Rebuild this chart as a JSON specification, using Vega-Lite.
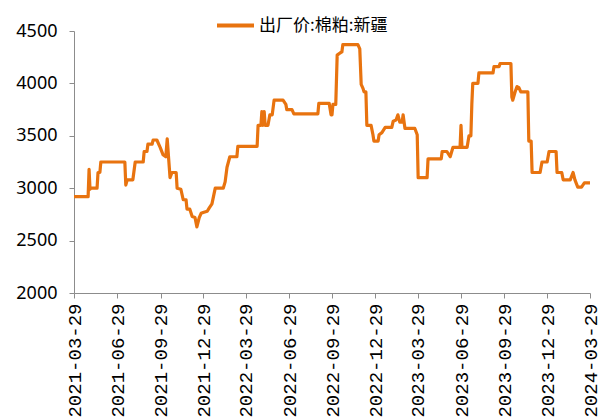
{
  "$schema": "https://vega.github.io/schema/vega-lite/v6.json",
  "width": 516,
  "height": 262,
  "autosize": {"type": "none"},
  "padding": {"left": 74, "top": 31, "right": 19, "bottom": 127},
  "background": "white",
  "config": {"view": {"stroke": null}, "font": "Noto Sans CJK SC"},
  "data": {"values": [
    {"date": "2021-03-29", "value": 2920, "series": "出厂价:棉粕:新疆"},
    {"date": "2021-04-28", "value": 2920, "series": "出厂价:棉粕:新疆"},
    {"date": "2021-04-30", "value": 3180, "series": "出厂价:棉粕:新疆"},
    {"date": "2021-05-02", "value": 2990, "series": "出厂价:棉粕:新疆"},
    {"date": "2021-05-04", "value": 3000, "series": "出厂价:棉粕:新疆"},
    {"date": "2021-05-17", "value": 3000, "series": "出厂价:棉粕:新疆"},
    {"date": "2021-05-19", "value": 3150, "series": "出厂价:棉粕:新疆"},
    {"date": "2021-05-23", "value": 3150, "series": "出厂价:棉粕:新疆"},
    {"date": "2021-05-25", "value": 3250, "series": "出厂价:棉粕:新疆"},
    {"date": "2021-07-15", "value": 3250, "series": "出厂价:棉粕:新疆"},
    {"date": "2021-07-17", "value": 3030, "series": "出厂价:棉粕:新疆"},
    {"date": "2021-07-20", "value": 3080, "series": "出厂价:棉粕:新疆"},
    {"date": "2021-08-01", "value": 3080, "series": "出厂价:棉粕:新疆"},
    {"date": "2021-08-06", "value": 3250, "series": "出厂价:棉粕:新疆"},
    {"date": "2021-08-23", "value": 3250, "series": "出厂价:棉粕:新疆"},
    {"date": "2021-08-25", "value": 3350, "series": "出厂价:棉粕:新疆"},
    {"date": "2021-08-31", "value": 3350, "series": "出厂价:棉粕:新疆"},
    {"date": "2021-09-02", "value": 3420, "series": "出厂价:棉粕:新疆"},
    {"date": "2021-09-11", "value": 3420, "series": "出厂价:棉粕:新疆"},
    {"date": "2021-09-13", "value": 3460, "series": "出厂价:棉粕:新疆"},
    {"date": "2021-09-21", "value": 3460, "series": "出厂价:棉粕:新疆"},
    {"date": "2021-09-28", "value": 3390, "series": "出厂价:棉粕:新疆"},
    {"date": "2021-10-04", "value": 3320, "series": "出厂价:棉粕:新疆"},
    {"date": "2021-10-10", "value": 3300, "series": "出厂价:棉粕:新疆"},
    {"date": "2021-10-13", "value": 3470, "series": "出厂价:棉粕:新疆"},
    {"date": "2021-10-19", "value": 3100, "series": "出厂价:棉粕:新疆"},
    {"date": "2021-10-23", "value": 3150, "series": "出厂价:棉粕:新疆"},
    {"date": "2021-11-01", "value": 3150, "series": "出厂价:棉粕:新疆"},
    {"date": "2021-11-03", "value": 3000, "series": "出厂价:棉粕:新疆"},
    {"date": "2021-11-11", "value": 2990, "series": "出厂价:棉粕:新疆"},
    {"date": "2021-11-16", "value": 2890, "series": "出厂价:棉粕:新疆"},
    {"date": "2021-11-22", "value": 2890, "series": "出厂价:棉粕:新疆"},
    {"date": "2021-11-24", "value": 2800, "series": "出厂价:棉粕:新疆"},
    {"date": "2021-11-30", "value": 2800, "series": "出厂价:棉粕:新疆"},
    {"date": "2021-12-05", "value": 2730, "series": "出厂价:棉粕:新疆"},
    {"date": "2021-12-11", "value": 2720, "series": "出厂价:棉粕:新疆"},
    {"date": "2021-12-15", "value": 2630, "series": "出厂价:棉粕:新疆"},
    {"date": "2021-12-20", "value": 2720, "series": "出厂价:棉粕:新疆"},
    {"date": "2021-12-24", "value": 2760, "series": "出厂价:棉粕:新疆"},
    {"date": "2021-12-30", "value": 2770, "series": "出厂价:棉粕:新疆"},
    {"date": "2022-01-06", "value": 2780, "series": "出厂价:棉粕:新疆"},
    {"date": "2022-01-10", "value": 2810, "series": "出厂价:棉粕:新疆"},
    {"date": "2022-01-16", "value": 2850, "series": "出厂价:棉粕:新疆"},
    {"date": "2022-01-23", "value": 3000, "series": "出厂价:棉粕:新疆"},
    {"date": "2022-02-09", "value": 3000, "series": "出厂价:棉粕:新疆"},
    {"date": "2022-02-13", "value": 3060, "series": "出厂价:棉粕:新疆"},
    {"date": "2022-02-17", "value": 3200, "series": "出厂价:棉粕:新疆"},
    {"date": "2022-02-23", "value": 3300, "series": "出厂价:棉粕:新疆"},
    {"date": "2022-03-10", "value": 3300, "series": "出厂价:棉粕:新疆"},
    {"date": "2022-03-12", "value": 3400, "series": "出厂价:棉粕:新疆"},
    {"date": "2022-04-22", "value": 3400, "series": "出厂价:棉粕:新疆"},
    {"date": "2022-04-24", "value": 3600, "series": "出厂价:棉粕:新疆"},
    {"date": "2022-04-30", "value": 3600, "series": "出厂价:棉粕:新疆"},
    {"date": "2022-05-02", "value": 3730, "series": "出厂价:棉粕:新疆"},
    {"date": "2022-05-04", "value": 3600, "series": "出厂价:棉粕:新疆"},
    {"date": "2022-05-07", "value": 3730, "series": "出厂价:棉粕:新疆"},
    {"date": "2022-05-09", "value": 3600, "series": "出厂价:棉粕:新疆"},
    {"date": "2022-05-15", "value": 3600, "series": "出厂价:棉粕:新疆"},
    {"date": "2022-05-19", "value": 3700, "series": "出厂价:棉粕:新疆"},
    {"date": "2022-05-24", "value": 3700, "series": "出厂价:棉粕:新疆"},
    {"date": "2022-05-28", "value": 3840, "series": "出厂价:棉粕:新疆"},
    {"date": "2022-06-16", "value": 3840, "series": "出厂价:棉粕:新疆"},
    {"date": "2022-06-22", "value": 3800, "series": "出厂价:棉粕:新疆"},
    {"date": "2022-06-24", "value": 3750, "series": "出厂价:棉粕:新疆"},
    {"date": "2022-07-05", "value": 3750, "series": "出厂价:棉粕:新疆"},
    {"date": "2022-07-09", "value": 3710, "series": "出厂价:棉粕:新疆"},
    {"date": "2022-08-29", "value": 3710, "series": "出厂价:棉粕:新疆"},
    {"date": "2022-08-31", "value": 3810, "series": "出厂价:棉粕:新疆"},
    {"date": "2022-09-22", "value": 3810, "series": "出厂价:棉粕:新疆"},
    {"date": "2022-09-26", "value": 3700, "series": "出厂价:棉粕:新疆"},
    {"date": "2022-09-28", "value": 3700, "series": "出厂价:棉粕:新疆"},
    {"date": "2022-09-30", "value": 3800, "series": "出厂价:棉粕:新疆"},
    {"date": "2022-10-06", "value": 3800, "series": "出厂价:棉粕:新疆"},
    {"date": "2022-10-09", "value": 4270, "series": "出厂价:棉粕:新疆"},
    {"date": "2022-10-15", "value": 4290, "series": "出厂价:棉粕:新疆"},
    {"date": "2022-10-19", "value": 4300, "series": "出厂价:棉粕:新疆"},
    {"date": "2022-10-21", "value": 4370, "series": "出厂价:棉粕:新疆"},
    {"date": "2022-11-22", "value": 4370, "series": "出厂价:棉粕:新疆"},
    {"date": "2022-11-26", "value": 4330, "series": "出厂价:棉粕:新疆"},
    {"date": "2022-11-29", "value": 3990, "series": "出厂价:棉粕:新疆"},
    {"date": "2022-12-03", "value": 3950, "series": "出厂价:棉粕:新疆"},
    {"date": "2022-12-05", "value": 3920, "series": "出厂价:棉粕:新疆"},
    {"date": "2022-12-09", "value": 3920, "series": "出厂价:棉粕:新疆"},
    {"date": "2022-12-11", "value": 3600, "series": "出厂价:棉粕:新疆"},
    {"date": "2022-12-20", "value": 3600, "series": "出厂价:棉粕:新疆"},
    {"date": "2022-12-24", "value": 3510, "series": "出厂价:棉粕:新疆"},
    {"date": "2022-12-26", "value": 3450, "series": "出厂价:棉粕:新疆"},
    {"date": "2023-01-04", "value": 3450, "series": "出厂价:棉粕:新疆"},
    {"date": "2023-01-06", "value": 3510, "series": "出厂价:棉粕:新疆"},
    {"date": "2023-01-12", "value": 3530, "series": "出厂价:棉粕:新疆"},
    {"date": "2023-01-19", "value": 3580, "series": "出厂价:棉粕:新疆"},
    {"date": "2023-02-02", "value": 3580, "series": "出厂价:棉粕:新疆"},
    {"date": "2023-02-05", "value": 3640, "series": "出厂价:棉粕:新疆"},
    {"date": "2023-02-11", "value": 3650, "series": "出厂价:棉粕:新疆"},
    {"date": "2023-02-15", "value": 3700, "series": "出厂价:棉粕:新疆"},
    {"date": "2023-02-19", "value": 3630, "series": "出厂价:棉粕:新疆"},
    {"date": "2023-02-24", "value": 3630, "series": "出厂价:棉粕:新疆"},
    {"date": "2023-02-26", "value": 3700, "series": "出厂价:棉粕:新疆"},
    {"date": "2023-03-02", "value": 3570, "series": "出厂价:棉粕:新疆"},
    {"date": "2023-03-23", "value": 3570, "series": "出厂价:棉粕:新疆"},
    {"date": "2023-03-28", "value": 3510, "series": "出厂价:棉粕:新疆"},
    {"date": "2023-03-30", "value": 3100, "series": "出厂价:棉粕:新疆"},
    {"date": "2023-04-18", "value": 3100, "series": "出厂价:棉粕:新疆"},
    {"date": "2023-04-20", "value": 3280, "series": "出厂价:棉粕:新疆"},
    {"date": "2023-05-18", "value": 3280, "series": "出厂价:棉粕:新疆"},
    {"date": "2023-05-20", "value": 3350, "series": "出厂价:棉粕:新疆"},
    {"date": "2023-05-30", "value": 3350, "series": "出厂价:棉粕:新疆"},
    {"date": "2023-06-06", "value": 3300, "series": "出厂价:棉粕:新疆"},
    {"date": "2023-06-12", "value": 3390, "series": "出厂价:棉粕:新疆"},
    {"date": "2023-06-27", "value": 3390, "series": "出厂价:棉粕:新疆"},
    {"date": "2023-06-29", "value": 3600, "series": "出厂价:棉粕:新疆"},
    {"date": "2023-07-01", "value": 3390, "series": "出厂价:棉粕:新疆"},
    {"date": "2023-07-12", "value": 3390, "series": "出厂价:棉粕:新疆"},
    {"date": "2023-07-16", "value": 3500, "series": "出厂价:棉粕:新疆"},
    {"date": "2023-07-20", "value": 3500, "series": "出厂价:棉粕:新疆"},
    {"date": "2023-07-22", "value": 3800, "series": "出厂价:棉粕:新疆"},
    {"date": "2023-07-24", "value": 4000, "series": "出厂价:棉粕:新疆"},
    {"date": "2023-08-04", "value": 4000, "series": "出厂价:棉粕:新疆"},
    {"date": "2023-08-06", "value": 4100, "series": "出厂价:棉粕:新疆"},
    {"date": "2023-09-05", "value": 4100, "series": "出厂价:棉粕:新疆"},
    {"date": "2023-09-07", "value": 4160, "series": "出厂价:棉粕:新疆"},
    {"date": "2023-09-18", "value": 4160, "series": "出厂价:棉粕:新疆"},
    {"date": "2023-09-20", "value": 4190, "series": "出厂价:棉粕:新疆"},
    {"date": "2023-10-13", "value": 4190, "series": "出厂价:棉粕:新疆"},
    {"date": "2023-10-15", "value": 3870, "series": "出厂价:棉粕:新疆"},
    {"date": "2023-10-17", "value": 3840, "series": "出厂价:棉粕:新疆"},
    {"date": "2023-10-22", "value": 3920, "series": "出厂价:棉粕:新疆"},
    {"date": "2023-10-26", "value": 3970, "series": "出厂价:棉粕:新疆"},
    {"date": "2023-10-30", "value": 3960, "series": "出厂价:棉粕:新疆"},
    {"date": "2023-11-03", "value": 3920, "series": "出厂价:棉粕:新疆"},
    {"date": "2023-11-18", "value": 3920, "series": "出厂价:棉粕:新疆"},
    {"date": "2023-11-20", "value": 3450, "series": "出厂价:棉粕:新疆"},
    {"date": "2023-11-25", "value": 3450, "series": "出厂价:棉粕:新疆"},
    {"date": "2023-11-27", "value": 3150, "series": "出厂价:棉粕:新疆"},
    {"date": "2023-12-14", "value": 3150, "series": "出厂价:棉粕:新疆"},
    {"date": "2023-12-18", "value": 3250, "series": "出厂价:棉粕:新疆"},
    {"date": "2023-12-29", "value": 3250, "series": "出厂价:棉粕:新疆"},
    {"date": "2024-01-02", "value": 3350, "series": "出厂价:棉粕:新疆"},
    {"date": "2024-01-17", "value": 3350, "series": "出厂价:棉粕:新疆"},
    {"date": "2024-01-19", "value": 3150, "series": "出厂价:棉粕:新疆"},
    {"date": "2024-01-29", "value": 3150, "series": "出厂价:棉粕:新疆"},
    {"date": "2024-02-01", "value": 3080, "series": "出厂价:棉粕:新疆"},
    {"date": "2024-02-16", "value": 3080, "series": "出厂价:棉粕:新疆"},
    {"date": "2024-02-22", "value": 3150, "series": "出厂价:棉粕:新疆"},
    {"date": "2024-02-26", "value": 3080, "series": "出厂价:棉粕:新疆"},
    {"date": "2024-03-03", "value": 3010, "series": "出厂价:棉粕:新疆"},
    {"date": "2024-03-11", "value": 3010, "series": "出厂价:棉粕:新疆"},
    {"date": "2024-03-17", "value": 3050, "series": "出厂价:棉粕:新疆"},
    {"date": "2024-03-29", "value": 3050, "series": "出厂价:棉粕:新疆"}
  ]},
  "mark": {"type": "line", "strokeWidth": 3.2, "strokeJoin": "round"},
  "encoding": {
    "x": {
      "field": "date",
      "type": "temporal",
      "scale": {"type": "utc", "domain": [
        {"year": 2021, "month": 3, "date": 29, "utc": true},
        {"year": 2024, "month": 3, "date": 29, "utc": true}
      ]},
      "axis": {
        "title": null,
        "grid": false,
        "values": [
          {"year": 2021, "month": 3, "date": 29, "utc": true},
          {"year": 2021, "month": 6, "date": 29, "utc": true},
          {"year": 2021, "month": 9, "date": 29, "utc": true},
          {"year": 2021, "month": 12, "date": 29, "utc": true},
          {"year": 2022, "month": 3, "date": 29, "utc": true},
          {"year": 2022, "month": 6, "date": 29, "utc": true},
          {"year": 2022, "month": 9, "date": 29, "utc": true},
          {"year": 2022, "month": 12, "date": 29, "utc": true},
          {"year": 2023, "month": 3, "date": 29, "utc": true},
          {"year": 2023, "month": 6, "date": 29, "utc": true},
          {"year": 2023, "month": 9, "date": 29, "utc": true},
          {"year": 2023, "month": 12, "date": 29, "utc": true},
          {"year": 2024, "month": 3, "date": 29, "utc": true}
        ],
        "format": "%Y-%m-%d",
        "labelAngle": -90,
        "labelFont": "Liberation Mono",
        "labelFontSize": 19,
        "labelColor": "#000000",
        "labelPadding": 5,
        "labelOverlap": false,
        "labelFlush": false,
        "labelBound": false,
        "tickSize": 5,
        "tickColor": "#8c8c8c",
        "domainColor": "#8c8c8c"
      }
    },
    "y": {
      "field": "value",
      "type": "quantitative",
      "scale": {"domain": [2000, 4500], "nice": false, "zero": false},
      "axis": {
        "title": null,
        "grid": false,
        "values": [2000, 2500, 3000, 3500, 4000, 4500],
        "format": "d",
        "labelFont": "Noto Sans",
        "labelFontSize": 18,
        "labelColor": "#000000",
        "labelPadding": 12,
        "labelFlush": false,
        "tickSize": 5,
        "tickColor": "#8c8c8c",
        "domainColor": "#8c8c8c"
      }
    },
    "color": {
      "field": "series",
      "type": "nominal",
      "scale": {"range": ["#E8730F"]},
      "legend": {
        "title": null,
        "orient": "none",
        "legendX": 141,
        "legendY": -26,
        "symbolType": "stroke",
        "symbolSize": 1369,
        "symbolStrokeWidth": 4,
        "labelFont": "Noto Sans CJK SC",
        "labelFontSize": 17,
        "labelColor": "#000000",
        "labelLimit": 300,
        "labelOffset": 3
      }
    }
  }
}
